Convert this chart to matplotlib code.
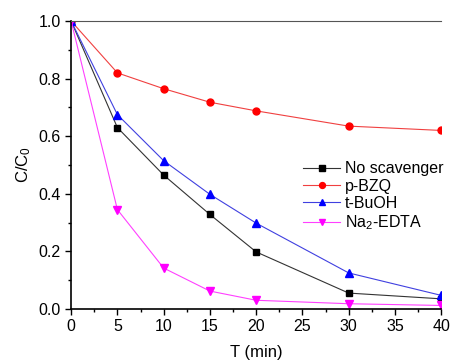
import matplotlib
matplotlib.use('Agg')
from matplotlib import pyplot as plt
from matplotlib.ticker import MultipleLocator

plt.rcParams['font.family'] = ['Liberation Sans', 'DejaVu Sans']
plt.rcParams['mathtext.fontset'] = 'custom'
plt.rcParams['mathtext.rm'] = 'Liberation Sans'
plt.rcParams['mathtext.it'] = 'Liberation Sans:italic'
plt.rcParams['mathtext.default'] = 'regular'

t = [0, 5, 10, 15, 20, 30, 40]
no_scavenger = [1.0, 0.63, 0.465, 0.328, 0.198, 0.055, 0.035]
p_bzq = [1.0, 0.82, 0.765, 0.718, 0.688, 0.635, 0.62]
t_buoh = [1.0, 0.675, 0.515, 0.398, 0.298, 0.125, 0.047]
na2_edta = [1.0, 0.345, 0.142, 0.062, 0.03, 0.018, 0.012]

fig = plt.figure(figsize=(4.53, 3.63), dpi=100)
ax = fig.add_axes([0.157, 0.149, 0.817, 0.793])

ax.plot(t, no_scavenger, color='#333333', lw=0.8, marker='s', ms=4.5,
        mfc='black', mec='black', label='No scavenger')
ax.plot(t, p_bzq, color='#f04040', lw=0.8, marker='o', ms=5,
        mfc='red', mec='red', label='p-BZQ')
ax.plot(t, t_buoh, color='#4040e0', lw=0.8, marker='^', ms=5.5,
        mfc='blue', mec='blue', label='t-BuOH')
ax.plot(t, na2_edta, color='#ff40ff', lw=0.8, marker='v', ms=5.5,
        mfc='magenta', mec='magenta', label='Na$_2$-EDTA')

ax.set_xlim(0, 40)
ax.set_ylim(0, 1.0)
ax.xaxis.set_major_locator(MultipleLocator(5))
ax.xaxis.set_minor_locator(MultipleLocator(2.5))
ax.yaxis.set_major_locator(MultipleLocator(0.2))
ax.yaxis.set_minor_locator(MultipleLocator(0.1))
ax.tick_params(which='both', direction='out', labelsize=11.5, width=1)
ax.tick_params(which='major', length=4)
ax.tick_params(which='minor', length=2.5)

ax.spines['right'].set_visible(False)
ax.spines['top'].set_color('#555555')
ax.spines['left'].set_linewidth(1.2)
ax.spines['bottom'].set_linewidth(1.2)

ax.set_xlabel('T (min)', fontsize=12, labelpad=8)
ax.set_ylabel('C/C$_0$', fontsize=12, labelpad=4)

ax.legend(loc='center right', bbox_to_anchor=(1.045, 0.39), frameon=False,
          fontsize=11.5, handlelength=2.3, handletextpad=0.3, labelspacing=0.15,
          markerscale=0.85)

fig.savefig('out.png', dpi=100)
